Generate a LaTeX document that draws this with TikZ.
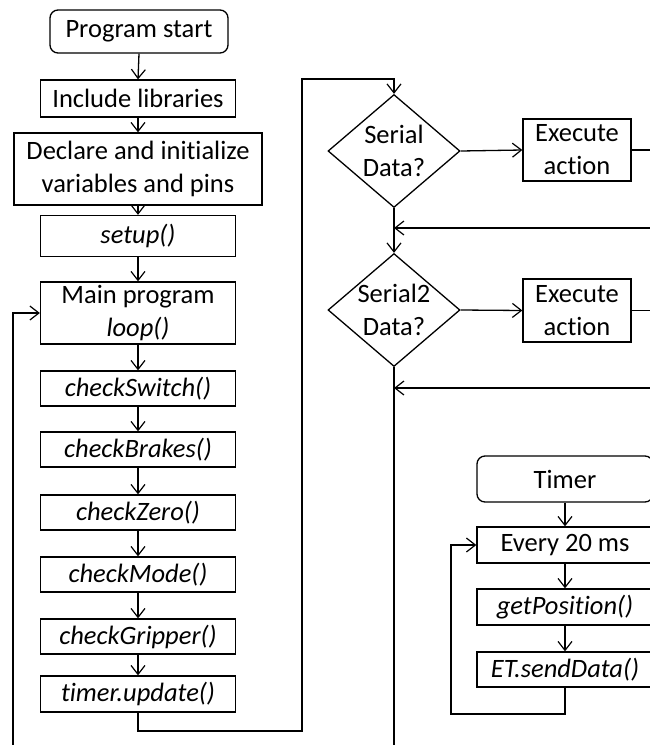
\documentclass[tikz,border=0pt]{standalone}
\usepackage{fontspec}
\setmainfont{Carlito}[Ligatures={NoCommon}, RawFeature={-liga;-clig;-dlig;-calt}]
\usetikzlibrary{arrows.meta,shapes.geometric}

\begin{document}
\begin{tikzpicture}[x=1pt,y=-1pt,
  line width=1.3pt,
  every node/.style={font=\fontsize{26.5}{33}\selectfont, inner sep=0pt, align=center},
  proc/.style={draw, minimum width=195pt, minimum height=35pt},
  term/.style={draw, rounded corners=8pt, minimum height=44pt},
  dia/.style={draw, diamond, minimum width=132pt, minimum height=113pt},
  flow/.style={-{Straight Barb[length=9pt,width=14pt,line width=1.2pt]}}
]
\useasboundingbox (0,0) rectangle (650,745);
\fill[white] (0,0) rectangle (650,745);
\clip (0,0) rectangle (650,745);

% main program column
\node[term, minimum width=178pt, minimum height=43pt] (start) at (139,31.5) {Program start};
\node[proc, minimum height=37pt] (incl) at (138,98.5) {Include libraries};
\node[proc, minimum width=248pt, minimum height=72pt] (decl) at (138,169) {Declare and initialize\\variables and pins};
\node[proc, minimum height=41pt] (setup) at (138,236) {\itshape setup()};
\node[proc, minimum height=62pt] (loop) at (138,313) {Main program\\\itshape loop()};
\node[proc] (sw) at (138,388.5) {\itshape checkSwitch()};
\node[proc] (brk) at (138,449.5) {\itshape checkBrakes()};
\node[proc] (zero) at (138,512.5) {\itshape checkZero()};
\node[proc] (mode) at (138,574.5) {\itshape checkMode()};
\node[proc] (grip) at (138,636.5) {\itshape checkGripper()};
\node[proc, minimum height=36pt] (upd) at (138,694) {\itshape timer.update()};

\foreach \a/\b in {start/incl, incl/decl, decl/setup, setup/loop, loop/sw,
                   sw/brk, brk/zero, zero/mode, mode/grip, grip/upd}
  \draw[flow] (\a.south) -- (\b.north);

% serial checks
\node[dia] (d1) at (394,151) {};
\node at (d1) {Serial\\Data?};
\node[dia] (d2) at (394,310) {};
\node at (d2) {Serial2\\Data?};
\node[draw, minimum width=108pt, minimum height=62pt] (ex1) at (577,150) {Execute\\action};
\node[draw, minimum width=108pt, minimum height=63pt] (ex2) at (577,310.5) {Execute\\action};

% loop back from timer.update() over to the serial checks
\coordinate (ub) at (138,731);
\coordinate (ur) at (302,731);
\coordinate (ut) at (302,79);
\draw[flow] (upd.south) -- (ub) -- (ur) -- (ut) -| (d1.north);

% loop back to the start of loop()
\coordinate (lb) at (13,760);
\draw[flow] (lb) |- (loop.west);

\draw[flow] (d1.east) -- (ex1.west);
\draw[flow] (d1.south) -- (d2.north);
\draw[flow] (d2.east) -- (ex2.west);
\coordinate (e1) at (660,150);
\coordinate (e2) at (660,310.5);
\draw (ex1.east) -- (e1);
\draw (ex2.east) -- (e2);
\coordinate (r1) at (660,228);
\coordinate (r2) at (660,388);
\draw[flow] (r1) -- (r1 -| d1.south);
\draw[flow] (r2) -- (r2 -| d2.south);
\coordinate (db) at (394,760);
\draw (d2.south) -- (db);

% timer routine
\node[term, minimum width=176pt, minimum height=46pt] (tmr) at (565,479) {Timer};
\node[proc, minimum width=176pt, minimum height=36pt] (every) at (565,545) {Every 20 ms};
\node[proc, minimum width=176pt, minimum height=36pt] (getp) at (565,607) {\itshape getPosition()};
\node[proc, minimum width=176pt] (send) at (565,669.5) {\itshape ET.sendData()};
\draw[flow] (tmr.south) -- (every.north);
\draw[flow] (every.south) -- (getp.north);
\draw[flow] (getp.south) -- (send.north);
\coordinate (tl) at (451,714);
\draw[flow] (send.south) |- (tl) |- (every.west);
\end{tikzpicture}
\end{document}
